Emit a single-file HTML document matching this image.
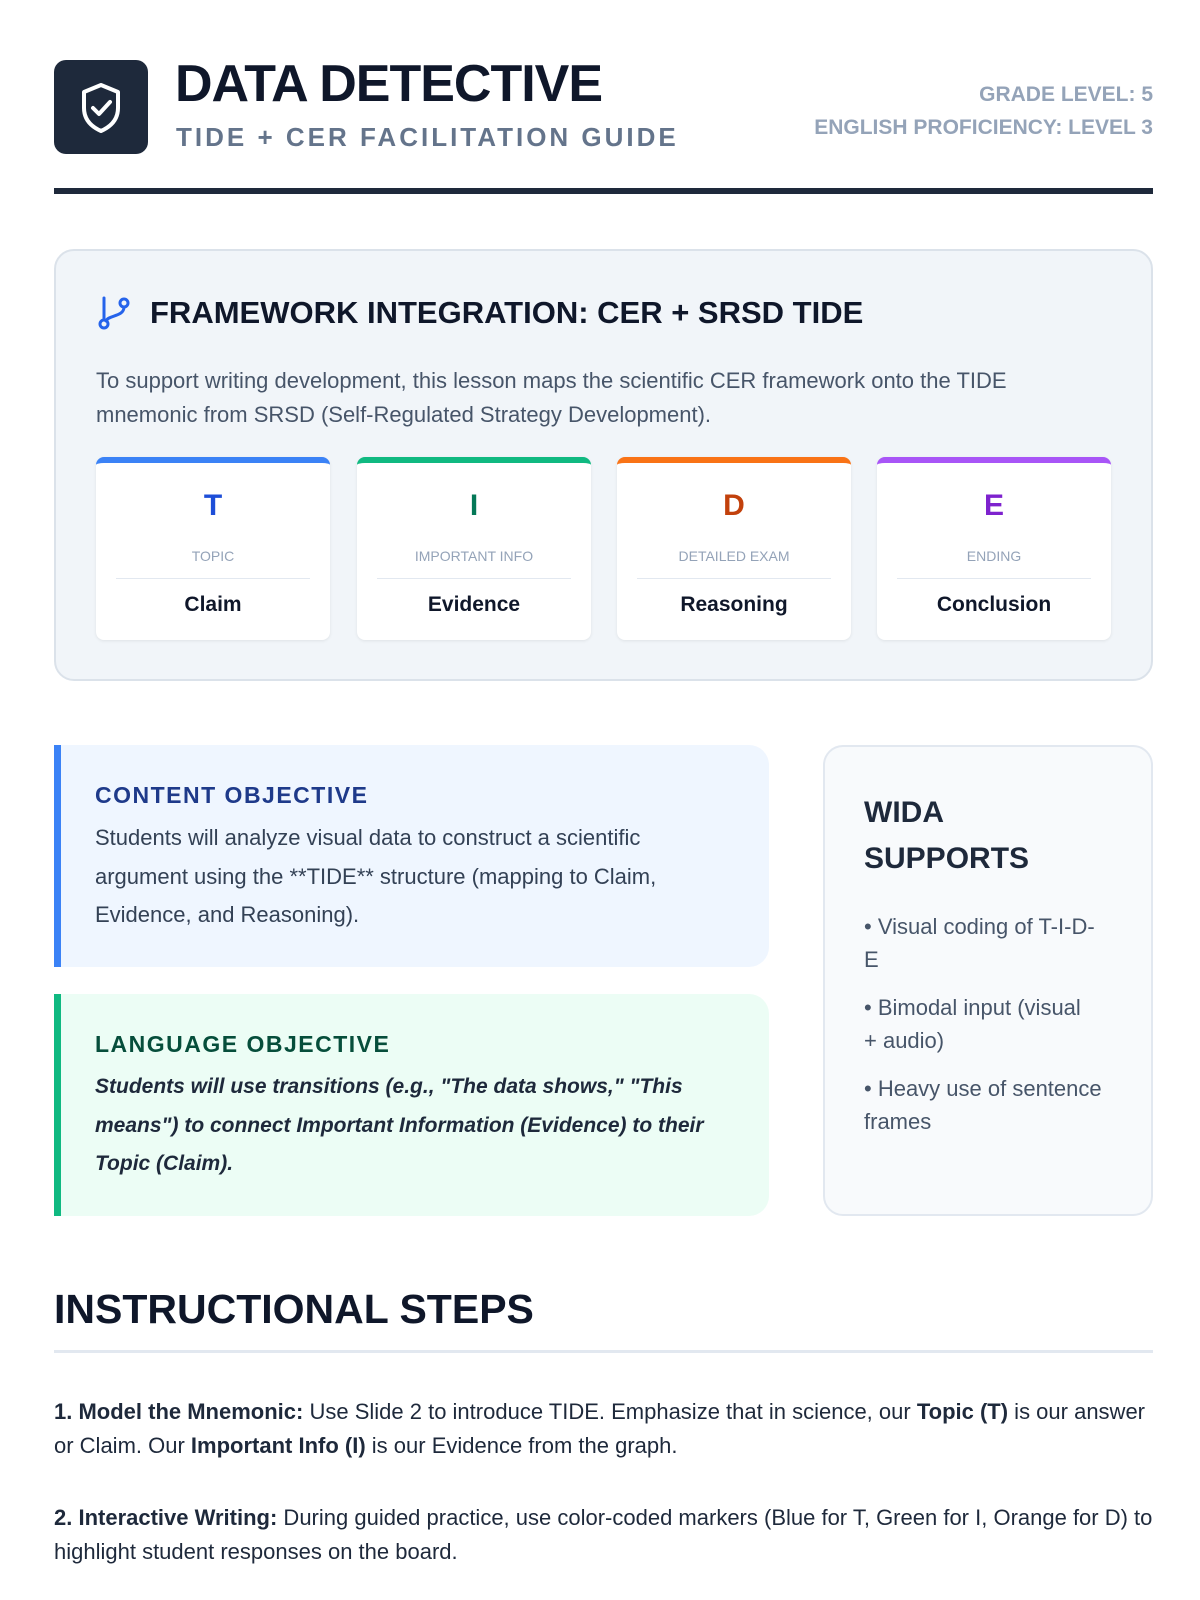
<!DOCTYPE html>
<html><head><meta charset="utf-8"><style>
*{margin:0;padding:0;box-sizing:border-box}
body{width:1200px;height:1600px;background:#fff;font-family:"Liberation Sans",sans-serif;color:#1e293b;position:relative;overflow:hidden}
.a{position:absolute}
.h{font-weight:bold;color:#0f172a}
.card{position:absolute;top:457px;width:234px;height:183px;background:#fff;border-radius:8px;border-top:6px solid;box-shadow:0 1px 3px rgba(0,0,0,.08);text-align:center}
.card .l{position:absolute;top:26px;left:0;right:0;font-size:30px;font-weight:bold}
.card .s{position:absolute;top:85px;left:0;right:0;font-size:14px;color:#94a3b8}
.card .d{position:absolute;top:115px;left:20px;right:20px;border-top:1px solid #e2e8f0}
.card .v{position:absolute;top:130px;left:0;right:0;font-size:21px;font-weight:bold;color:#0f172a}
.p{font-size:22px;color:#334155}
</style></head><body>
<div class="a" style="left:54px;top:60px;width:94px;height:94px;background:#1e293b;border-radius:12px">
<svg width="94" height="94" viewBox="0 0 94 94"><path d="M47 25 L64 32 V48 C64 60 56 67 47 71 C38 67 30 60 30 48 V32 Z" fill="none" stroke="#fff" stroke-width="4" stroke-linejoin="round"/><path d="M39 48 L45 54 L56 42" fill="none" stroke="#fff" stroke-width="4" stroke-linecap="round" stroke-linejoin="round"/></svg></div>
<div class="a h" style="left:175px;top:55px;font-size:52px;letter-spacing:-1px;line-height:58px">DATA DETECTIVE</div>
<div class="a" style="left:176px;top:122px;font-size:26px;font-weight:bold;color:#64748b;letter-spacing:3px;line-height:30px">TIDE + CER FACILITATION GUIDE</div>
<div class="a" style="right:47px;top:78px;font-size:21px;font-weight:bold;color:#94a3b8;text-align:right;line-height:33px">GRADE LEVEL: 5<br>ENGLISH PROFICIENCY: LEVEL 3</div>
<div class="a" style="left:54px;top:188px;width:1099px;height:6px;background:#1e293b"></div>

<div class="a" style="left:54px;top:249px;width:1099px;height:432px;background:#f1f5f9;border:2px solid #dbe2ea;border-radius:20px"></div>
<svg class="a" style="left:96px;top:295px" width="36" height="36" viewBox="0 0 36 36"><circle cx="8" cy="29" r="4" fill="none" stroke="#2563eb" stroke-width="3"/><circle cx="28" cy="8" r="4" fill="none" stroke="#2563eb" stroke-width="3"/><path d="M8 25 V3 M28 12 C28 22 12 20 10 26" fill="none" stroke="#2563eb" stroke-width="3" stroke-linecap="round"/></svg>
<div class="a h" style="left:150px;top:295px;font-size:31px;line-height:36px">FRAMEWORK INTEGRATION: CER + SRSD TIDE</div>
<div class="a p" style="left:96px;top:364px;line-height:34px;width:1040px;color:#475569">To support writing development, this lesson maps the scientific CER framework onto the TIDE<br>mnemonic from SRSD (Self-Regulated Strategy Development).</div>
<div class="card" style="left:96px;border-color:#3b82f6"><div class="l" style="color:#1d4ed8">T</div><div class="s">TOPIC</div><div class="d"></div><div class="v">Claim</div></div>
<div class="card" style="left:357px;border-color:#10b981"><div class="l" style="color:#047857">I</div><div class="s">IMPORTANT INFO</div><div class="d"></div><div class="v">Evidence</div></div>
<div class="card" style="left:617px;border-color:#f97316"><div class="l" style="color:#c2410c">D</div><div class="s">DETAILED EXAM</div><div class="d"></div><div class="v">Reasoning</div></div>
<div class="card" style="left:877px;border-color:#a855f7"><div class="l" style="color:#7e22ce">E</div><div class="s">ENDING</div><div class="d"></div><div class="v">Conclusion</div></div>

<div class="a" style="left:54px;top:745px;width:715px;height:222px;background:#eff6ff;border-left:7px solid #3b82f6;border-radius:0 20px 20px 0"></div>
<div class="a" style="left:95px;top:782px;font-size:23px;font-weight:bold;color:#1e3a8a;letter-spacing:1.5px">CONTENT OBJECTIVE</div>
<div class="a p" style="left:95px;top:819px;line-height:38.5px;width:670px">Students will analyze visual data to construct a scientific<br>argument using the **TIDE** structure (mapping to Claim,<br>Evidence, and Reasoning).</div>
<div class="a" style="left:54px;top:994px;width:715px;height:222px;background:#ecfdf5;border-left:7px solid #10b981;border-radius:0 20px 20px 0"></div>
<div class="a" style="left:95px;top:1031px;font-size:23px;font-weight:bold;color:#064e3b;letter-spacing:1.5px">LANGUAGE OBJECTIVE</div>
<div class="a" style="left:95px;top:1068px;line-height:38.5px;width:680px;font-size:21px;font-style:italic;font-weight:bold;color:#1e293b">Students will use transitions (e.g., "The data shows," "This<br>means") to connect Important Information (Evidence) to their<br>Topic (Claim).</div>

<div class="a" style="left:823px;top:745px;width:330px;height:471px;background:#f8fafc;border:2px solid #e2e8f0;border-radius:20px"></div>
<div class="a h" style="left:864px;top:790px;font-size:30px;line-height:46px;color:#1e293b">WIDA<br>SUPPORTS</div>
<div class="a p" style="left:864px;top:910px;line-height:33px;width:270px;color:#475569">• Visual coding of T-I-D-<br>E</div>
<div class="a p" style="left:864px;top:991px;line-height:33px;color:#475569">• Bimodal input (visual<br>+ audio)</div>
<div class="a p" style="left:864px;top:1072px;line-height:33px;color:#475569">• Heavy use of sentence<br>frames</div>

<div class="a h" style="left:54px;top:1286px;font-size:41px;line-height:46px">INSTRUCTIONAL STEPS</div>
<div class="a" style="left:54px;top:1350px;width:1099px;height:3px;background:#e2e8f0"></div>
<div class="a p" style="left:54px;top:1395px;line-height:34px;width:1140px;color:#1e293b"><b>1. Model the Mnemonic:</b> Use Slide 2 to introduce TIDE. Emphasize that in science, our <b>Topic (T)</b> is our answer<br>or Claim. Our <b>Important Info (I)</b> is our Evidence from the graph.</div>
<div class="a p" style="left:54px;top:1501px;line-height:34px;width:1140px;color:#1e293b"><b>2. Interactive Writing:</b> During guided practice, use color-coded markers (Blue for T, Green for I, Orange for D) to<br>highlight student responses on the board.</div>
</body></html>
